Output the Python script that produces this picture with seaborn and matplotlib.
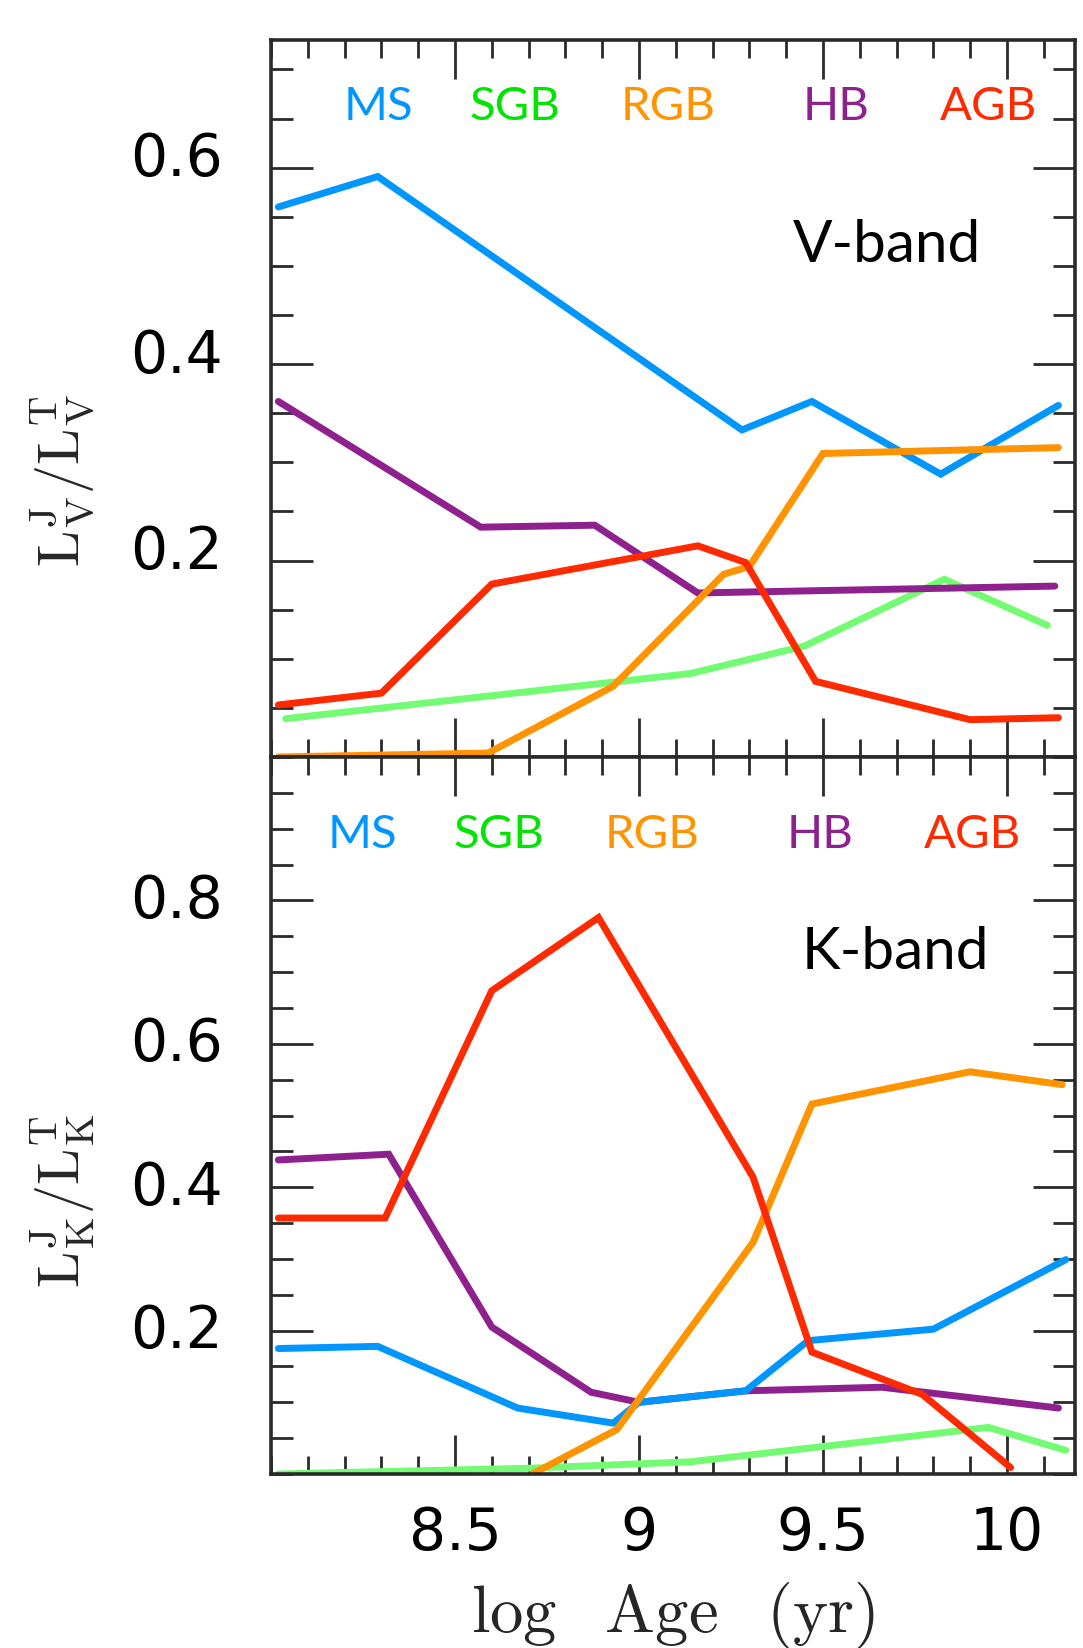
import numpy as np
import pandas as pd
import matplotlib
matplotlib.use("Agg")
import matplotlib.pyplot as plt
import matplotlib.transforms as mtransforms
from matplotlib.ticker import MultipleLocator, FixedLocator
import seaborn as sns

# ---------------- data ----------------
# V-band  (L_V^J / L_V^T)
v_ms_age = [8.02, 8.29, 9.28, 9.47, 9.82, 10.14]
v_ms_val = [0.560, 0.591, 0.333, 0.362, 0.288, 0.358]
v_sgb_age = [8.04, 9.14, 9.45, 9.83, 10.11]
v_sgb_val = [0.039, 0.085, 0.113, 0.181, 0.134]
v_rgb_age = [8.02, 8.59, 8.93, 9.23, 9.30, 9.50, 10.14]
v_rgb_val = [0.000, 0.004, 0.072, 0.186, 0.194, 0.309, 0.315]
v_hb_age = [8.02, 8.57, 8.88, 9.16, 10.13]
v_hb_val = [0.362, 0.234, 0.236, 0.167, 0.174]
v_agb_age = [8.02, 8.30, 8.60, 9.16, 9.29, 9.48, 9.90, 10.14]
v_agb_val = [0.053, 0.065, 0.176, 0.215, 0.198, 0.077, 0.038, 0.040]

# K-band  (L_K^J / L_K^T)
k_ms_age = [8.02, 8.29, 8.67, 8.93, 9.00, 9.29, 9.46, 9.80, 10.16]
k_ms_val = [0.175, 0.178, 0.092, 0.071, 0.100, 0.116, 0.186, 0.202, 0.299]
k_sgb_age = [8.02, 8.70, 9.14, 9.95, 10.16]
k_sgb_val = [0.000, 0.008, 0.017, 0.065, 0.033]
k_rgb_age = [8.71, 8.94, 9.31, 9.47, 9.90, 10.15]
k_rgb_val = [0.000, 0.062, 0.323, 0.516, 0.561, 0.543]
k_hb_age = [8.02, 8.32, 8.60, 8.87, 9.00, 9.29, 9.66, 10.14]
k_hb_val = [0.438, 0.446, 0.205, 0.114, 0.100, 0.116, 0.121, 0.092]
k_agb_age = [8.02, 8.31, 8.60, 8.89, 9.31, 9.47, 9.77, 10.01]
k_agb_val = [0.357, 0.357, 0.674, 0.776, 0.414, 0.170, 0.111, 0.009]

phases = ["MS", "SGB", "RGB", "HB", "AGB"]
line_colors = {"MS": "#0096FF", "SGB": "#74FB74", "RGB": "#FF9300",
               "HB": "#8F218F", "AGB": "#FF2A00"}
label_colors = {"MS": "#0096FF", "SGB": "#00E400", "RGB": "#FF9300",
                "HB": "#8F218F", "AGB": "#FF2A00"}

x_ticklabels = ["8.5", "9", "9.5", "10"]
v_yticks = [0.2, 0.4, 0.6]
k_yticks = [0.2, 0.4, 0.6, 0.8]


def make_df(series):
    frames = []
    for name, (age, val) in series.items():
        frames.append(pd.DataFrame({"age": age, "frac": val, "phase": name}))
    return pd.concat(frames, ignore_index=True)


v_df = make_df({"MS": (v_ms_age, v_ms_val), "SGB": (v_sgb_age, v_sgb_val),
                "RGB": (v_rgb_age, v_rgb_val), "HB": (v_hb_age, v_hb_val),
                "AGB": (v_agb_age, v_agb_val)})
k_df = make_df({"MS": (k_ms_age, k_ms_val), "SGB": (k_sgb_age, k_sgb_val),
                "RGB": (k_rgb_age, k_rgb_val), "HB": (k_hb_age, k_hb_val),
                "AGB": (k_agb_age, k_agb_val)})

# ---------------- style ----------------
sns.set_style("ticks")
plt.rcParams["font.family"] = ["DejaVu Sans"]
plt.rcParams["mathtext.fontset"] = "cm"

W, H = 1083, 1648
fig = plt.figure(figsize=(W / 100, H / 100), dpi=100)
L, R = 271, 1075
T1, MID, B2 = 40, 757, 1474
ax1 = fig.add_axes([L / W, 1 - MID / H, (R - L) / W, (MID - T1) / H])
ax2 = fig.add_axes([L / W, 1 - B2 / H, (R - L) / W, (B2 - MID) / H])

draw_order = ["SGB", "HB", "MS", "RGB", "AGB"]
for ax, df in ((ax1, v_df), (ax2, k_df)):
    for ph in draw_order:
        sub = df[df["phase"] == ph]
        sns.lineplot(data=sub, x="age", y="frac", ax=ax, color=line_colors[ph],
                     lw=5.0, sort=False, estimator=None, legend=False,
                     solid_joinstyle="miter")

frame_col = "#2a2a2a"
for ax in (ax1, ax2):
    ax.set_xlim(8.0, 10.185)
    ax.xaxis.set_major_locator(FixedLocator([8.5, 9.0, 9.5, 10.0]))
    ax.xaxis.set_minor_locator(MultipleLocator(0.1))
    ax.yaxis.set_minor_locator(MultipleLocator(0.05))
    ax.set_xlabel("")
    ax.set_ylabel("")
    for sp in ax.spines.values():
        sp.set_visible(True)
        sp.set_linewidth(2.6)
        sp.set_color(frame_col)
    ax.tick_params(which="both", direction="in", top=True, right=True,
                   bottom=True, left=True, color=frame_col, labelcolor="black")
    ax.tick_params(axis="y", which="major", length=30, width=2.0,
                   labelsize=42, pad=35)
    ax.tick_params(axis="y", which="minor", length=16, width=2.0)
    ax.tick_params(axis="x", which="major", length=28, width=2.0,
                   labelsize=42, pad=22)
    ax.tick_params(axis="x", which="minor", length=13, width=2.0)

ax1.set_ylim(0, 0.730)
ax1.yaxis.set_major_locator(FixedLocator(v_yticks))
ax1.set_yticklabels([f"{t:.1f}" for t in v_yticks])
ax1.tick_params(labelbottom=False)

ax2.set_ylim(0, 1.0)
ax2.yaxis.set_major_locator(FixedLocator(k_yticks))
ax2.set_yticklabels([f"{t:.1f}" for t in k_yticks])
ax2.set_xticklabels(x_ticklabels)

# small upward shift of y tick labels as in the scan
for ax, dy in ((ax1, 14), (ax2, 5)):
    off = mtransforms.ScaledTranslation(0, dy / 100, fig.dpi_scale_trans)
    for lbl in ax.get_yticklabels():
        lbl.set_transform(lbl.get_transform() + off)

# phase labels
top_pos = {"MS": 0.134, "SGB": 0.303, "RGB": 0.494, "HB": 0.703, "AGB": 0.892}
bot_pos = {"MS": 0.114, "SGB": 0.284, "RGB": 0.474, "HB": 0.683, "AGB": 0.873}
for ax, pos, yy in ((ax1, top_pos, 0.907), (ax2, bot_pos, 0.891)):
    for ph in phases:
        ax.text(pos[ph], yy, ph, transform=ax.transAxes, ha="center",
                va="center", fontsize=34, color=label_colors[ph],
                family=["Lato", "DejaVu Sans"])

ax1.text(0.766, 0.714, "V-band", transform=ax1.transAxes, ha="center",
         va="center", fontsize=42, color="black", family=["Lato", "DejaVu Sans"])
ax2.text(0.777, 0.728, "K-band", transform=ax2.transAxes, ha="center",
         va="center", fontsize=42, color="black", family=["Lato", "DejaVu Sans"])

# axis titles
fig.text(62 / W, 1 - 480 / H,
         r"$\mathrm{L}^{\mathrm{J}}_{\mathrm{V}}/\mathrm{L}^{\mathrm{T}}_{\mathrm{V}}$",
         rotation=90, ha="center", va="center", fontsize=42)
fig.text(62 / W, 1 - 1201 / H,
         r"$\mathrm{L}^{\mathrm{J}}_{\mathrm{K}}/\mathrm{L}^{\mathrm{T}}_{\mathrm{K}}$",
         rotation=90, ha="center", va="center", fontsize=42)
fig.text(673 / W, 1 - 1632 / H, r"$\mathrm{log\;\;\;Age\;\;\;(yr)}$",
         ha="center", va="baseline", fontsize=48)

fig.savefig("out.png", dpi=100, facecolor="white")
